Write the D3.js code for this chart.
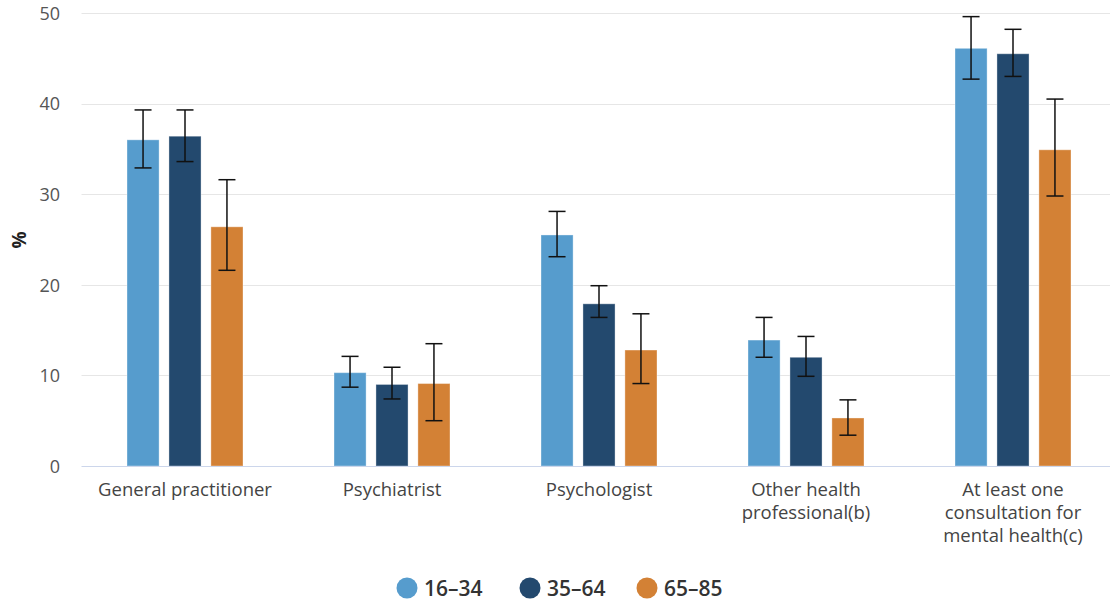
<!DOCTYPE html>
<html>
<head>
<meta charset="utf-8">
<script src="https://cdn.jsdelivr.net/npm/d3@7/dist/d3.min.js"></script>
<style>
  html, body { margin: 0; padding: 0; background: #fff; }
  svg { display: block; font-family: "Open Sans", "Noto Sans", sans-serif; }
</style>
</head>
<body>
<svg id="chart" width="1110" height="602"></svg>
<script>
// Consultations with health professionals for mental health, by age group (%)
const categories = [
  ["General practitioner"],
  ["Psychiatrist"],
  ["Psychologist"],
  ["Other health", "professional(b)"],
  ["At least one", "consultation for", "mental health(c)"]
];
const seriesNames = ["16–34", "35–64", "65–85"];
const seriesColors = ["#569ccd", "#23496e", "#d38135"];

const values16_34 = [36.0, 10.3, 25.5, 13.9, 46.1];
const values35_64 = [36.4, 9.0, 17.9, 12.0, 45.5];
const values65_85 = [26.4, 9.1, 12.8, 5.3, 34.9];

const low16_34  = [32.9, 8.7, 23.1, 12.0, 42.7];
const high16_34 = [39.3, 12.1, 28.1, 16.4, 49.6];
const low35_64  = [33.6, 7.4, 16.4, 9.9, 43.0];
const high35_64 = [39.3, 10.9, 19.9, 14.3, 48.2];
const low65_85  = [21.6, 5.0, 9.1, 3.4, 29.8];
const high65_85 = [31.6, 13.5, 16.8, 7.3, 40.5];

const yTicks = [0, 10, 20, 30, 40, 50];

const seriesValues = [values16_34, values35_64, values65_85];
const seriesLow = [low16_34, low35_64, low65_85];
const seriesHigh = [high16_34, high35_64, high65_85];

const rows = [];
categories.forEach((c, i) => {
  seriesNames.forEach((s, j) => {
    rows.push({ cat: i, series: j, value: seriesValues[j][i], low: seriesLow[j][i], high: seriesHigh[j][i] });
  });
});

const svg = d3.select("#chart");
const plot = { left: 81.5, right: 1116.5, top: 13, bottom: 466 };

const x = d3.scaleBand().domain(d3.range(categories.length)).range([plot.left, plot.right]).padding(0);
const xInner = d3.scaleBand().domain(d3.range(seriesNames.length))
  .range([x.bandwidth() / 2 - 58, x.bandwidth() / 2 + 58]).paddingInner(0.235);
const y = d3.scaleLinear().domain([0, 50]).range([plot.bottom, plot.top]);

// gridlines
svg.append("g").selectAll("line").data(yTicks.filter(d => d > 0)).join("line")
  .attr("x1", plot.left).attr("x2", 1110)
  .attr("y1", d => Math.round(y(d)) + 0.5).attr("y2", d => Math.round(y(d)) + 0.5)
  .attr("stroke", "#e6e6e6").attr("stroke-width", 1);

// y axis labels
const yAxis = d3.axisLeft(y).tickValues(yTicks).tickSize(0).tickPadding(0);
const yg = svg.append("g").attr("transform", `translate(60,0)`).call(yAxis);
yg.select(".domain").remove();
yg.selectAll("text").attr("font-size", 18).attr("fill", "#555").attr("font-family", "Open Sans").attr("dy", "0.35em");

svg.append("text")
  .attr("transform", `translate(26,240) rotate(-90)`)
  .attr("text-anchor", "middle")
  .attr("font-size", 19).attr("font-weight", 700).attr("fill", "#222")
  .text("%");

// bars
const groups = svg.append("g").selectAll("g").data(rows).join("g")
  .attr("transform", d => `translate(${x(d.cat) + xInner(d.series)},0)`);

groups.append("rect")
  .attr("x", 0).attr("width", xInner.bandwidth())
  .attr("y", d => y(d.value)).attr("height", d => y(0) - y(d.value))
  .attr("fill", d => seriesColors[d.series])
  .attr("stroke", "#ffffff").attr("stroke-opacity", 0.35).attr("stroke-width", 1);

// baseline
svg.append("line")
  .attr("x1", plot.left).attr("x2", 1110)
  .attr("y1", plot.bottom + 0.5).attr("y2", plot.bottom + 0.5)
  .attr("stroke", "#ccd6eb").attr("stroke-width", 1);

// error bars
const cw = 8.5;
const eb = groups.append("g").attr("stroke", "#111").attr("stroke-width", 1.5)
  .attr("transform", d => `translate(${xInner.bandwidth() / 2},0)`);
eb.append("line").attr("x1", 0).attr("x2", 0).attr("y1", d => y(d.high)).attr("y2", d => y(d.low));
eb.append("line").attr("x1", -cw).attr("x2", cw).attr("y1", d => y(d.high)).attr("y2", d => y(d.high));
eb.append("line").attr("x1", -cw).attr("x2", cw).attr("y1", d => y(d.low)).attr("y2", d => y(d.low));

// category labels
const xl = svg.append("g").selectAll("text").data(categories).join("text")
  .attr("x", (d, i) => x(i) + x.bandwidth() / 2)
  .attr("y", 496)
  .attr("text-anchor", "middle")
  .attr("font-size", 18.5).attr("fill", "#444");
xl.selectAll("tspan").data(d => d).join("tspan")
  .attr("x", function () { return this.parentNode.getAttribute("x"); })
  .attr("dy", (d, i) => i === 0 ? 0 : 23)
  .text(d => d);

// legend
const legendX = [407, 530, 647];
const lg = svg.append("g").selectAll("g").data(seriesNames).join("g")
  .attr("transform", (d, i) => `translate(${legendX[i]},588)`);
lg.append("circle").attr("r", 10.5).attr("fill", (d, i) => seriesColors[i]);
lg.append("text").attr("x", 17).attr("dy", "0.36em")
  .attr("font-size", 21).attr("font-weight", 600).attr("fill", "#333")
  .text(d => d);
</script>
</body>
</html>
